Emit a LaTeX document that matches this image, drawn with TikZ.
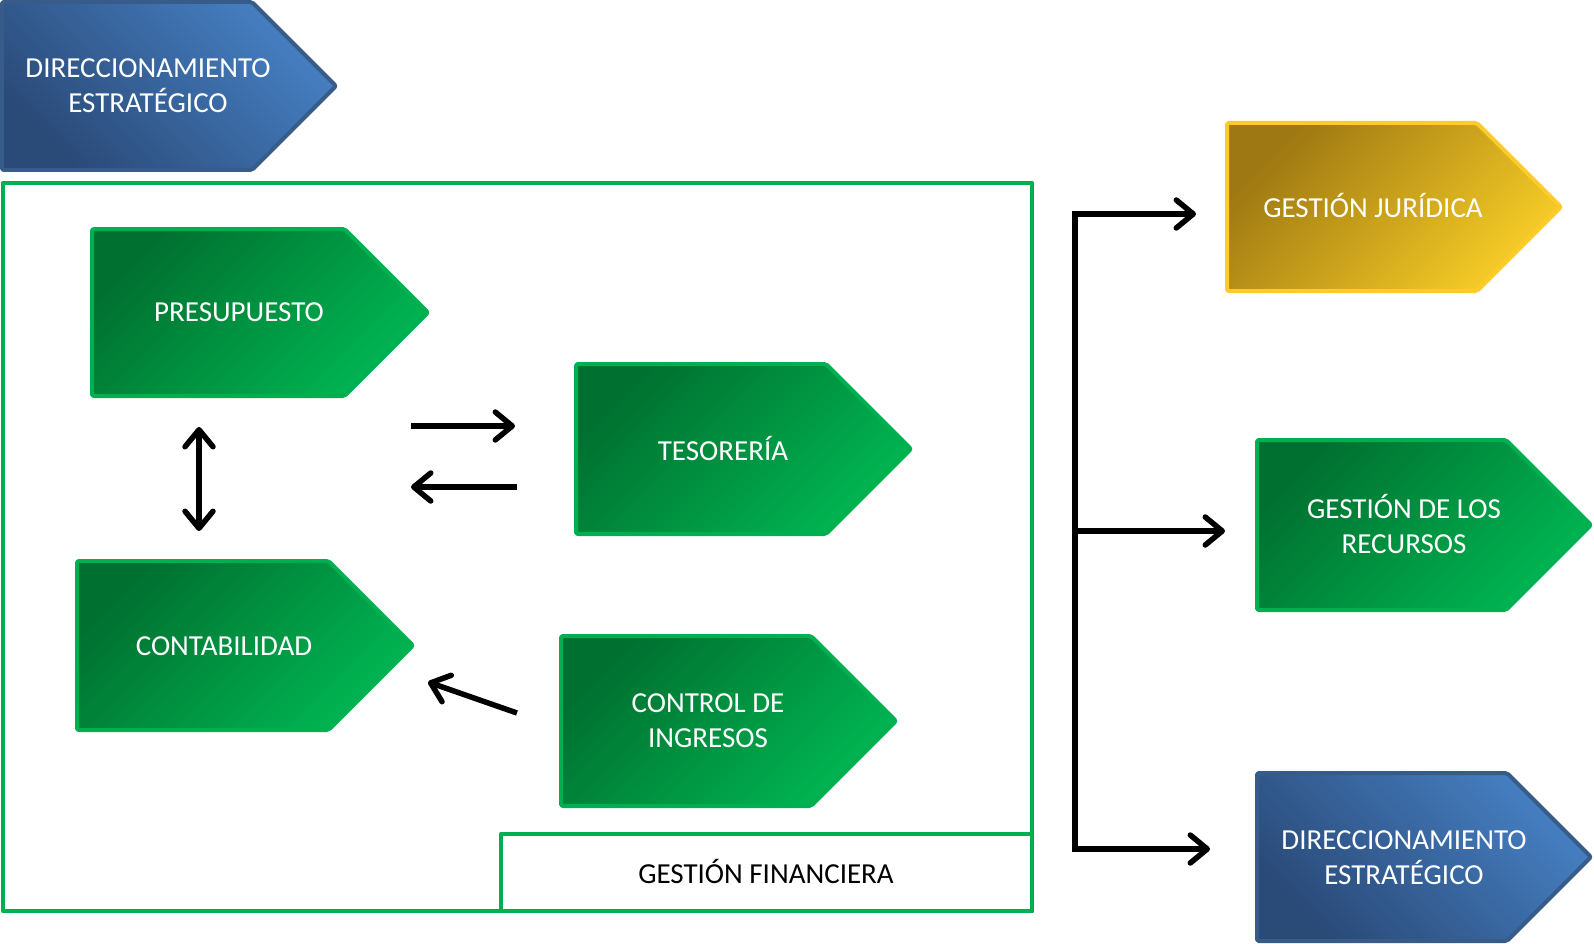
\documentclass[tikz,border=0pt]{standalone}
\usepackage{fontspec}
\setmainfont{Carlito}
\usetikzlibrary{arrows.meta}
\definecolor{bluedark}{RGB}{42,74,120}
\definecolor{bluelight}{RGB}{70,128,195}
\definecolor{blueborder}{RGB}{56,92,138}
\definecolor{greendark}{RGB}{0,112,48}
\definecolor{greenlight}{RGB}{0,182,82}
\definecolor{greenborder}{RGB}{0,176,80}
\definecolor{golddark}{RGB}{158,120,18}
\definecolor{goldlight}{RGB}{247,205,38}
\definecolor{goldborder}{RGB}{255,202,44}
\newcommand{\pentshape}[5]{% style, left, top, total width, height
  \path[#1] (#2,#3) -- ++({#4-#5/2},0) -- ++({#5/2},{#5/2}) -- ++({-#5/2},{#5/2}) -- ++({-#4+#5/2},0) -- cycle;}
\tikzset{
  bluebox/.style={draw=blueborder, line width=4pt, rounded corners=2pt, line join=round,
    top color=bluelight, bottom color=bluedark, shading angle=-45},
  greenbox/.style={draw=greenborder, line width=4pt, rounded corners=2pt, line join=round,
    top color=greendark, bottom color=greenlight, shading angle=45},
  goldbox/.style={draw=goldborder, line width=4pt, rounded corners=2pt, line join=round,
    top color=golddark, bottom color=goldlight, shading angle=45},
  wlabel/.style={text=white, font=\fontsize{29}{35}\selectfont, align=center, inner sep=0pt},
  blabel/.style={text=black, font=\fontsize{29}{35}\selectfont, align=center},
  frame/.style={draw=greenborder, line width=4.5pt, line join=round},
  conn/.style={line width=5.5pt, -{Straight Barb[length=17pt,width=28pt,round]}},
  dconn/.style={line width=5.5pt, {Straight Barb[length=17pt,width=28pt,round]}-{Straight Barb[length=17pt,width=28pt,round]}},
}
\begin{document}
\begin{tikzpicture}[x=1pt,y=-1pt]
\useasboundingbox (0,0) rectangle (1594,944);
% frame
\draw[frame] (3,183) rectangle (1032,911);
\node[frame, minimum width=531pt, minimum height=77pt, inner sep=0pt] (finbox) at (766.5,872.5) {};
\node[blabel] (fin) at (766,871) {GESTIÓN FINANCIERA};
% shapes
\pentshape{bluebox}{2}{2}{334}{168}
\node[wlabel] (dir1) at (148,86) {DIRECCIONAMIENTO\\ESTRATÉGICO};
\pentshape{greenbox}{92}{229}{336}{167}
\node[wlabel] (pre) at (239,312) {PRESUPUESTO};
\pentshape{greenbox}{576}{364}{335}{170}
\node[wlabel] (tes) at (723,448) {TESORERÍA};
\pentshape{greenbox}{77}{561}{336}{169}
\node[wlabel] (con) at (224,646) {CONTABILIDAD};
\pentshape{greenbox}{561}{636}{335}{170}
\node[wlabel] (ing) at (708,721) {CONTROL DE\\INGRESOS};
\pentshape{goldbox}{1227}{123}{334}{168}
\node[wlabel] (jur) at (1373,205) {GESTIÓN JURÍDICA};
\pentshape{greenbox}{1257}{440}{334}{170}
\node[wlabel] (rec) at (1404,524) {GESTIÓN DE LOS\\RECURSOS};
\pentshape{bluebox}{1257}{773}{334}{168}
\node[wlabel] (dir2) at (1404,858) {DIRECCIONAMIENTO\\ESTRATÉGICO};
% arrows inside
\coordinate (v1) at (199,427);
\coordinate (v2) at (199,531);
\draw[dconn] (v1) -- (v2);
\coordinate (r1) at (411,426);
\coordinate (r2) at (515,426);
\draw[conn] (r1) -- (r2);
\coordinate (l1) at (517,487);
\coordinate (l2) at (411,487);
\draw[conn] (l1) -- (l2);
\coordinate (d1) at (517,713);
\coordinate (d2) at (428,682);
\draw[conn] (d1) -- (d2);
% bracket
\coordinate (bt) at (1075,214);
\coordinate (bm) at (1075,531);
\coordinate (bb) at (1075,849);
\coordinate (tj) at (1196,214);
\coordinate (tr) at (1225,531);
\coordinate (td) at (1210,849);
\draw[dconn] (tj) -- (bt) -- (bb) -- (td);
\draw[conn] (bm) -- (tr);
\end{tikzpicture}
\end{document}
